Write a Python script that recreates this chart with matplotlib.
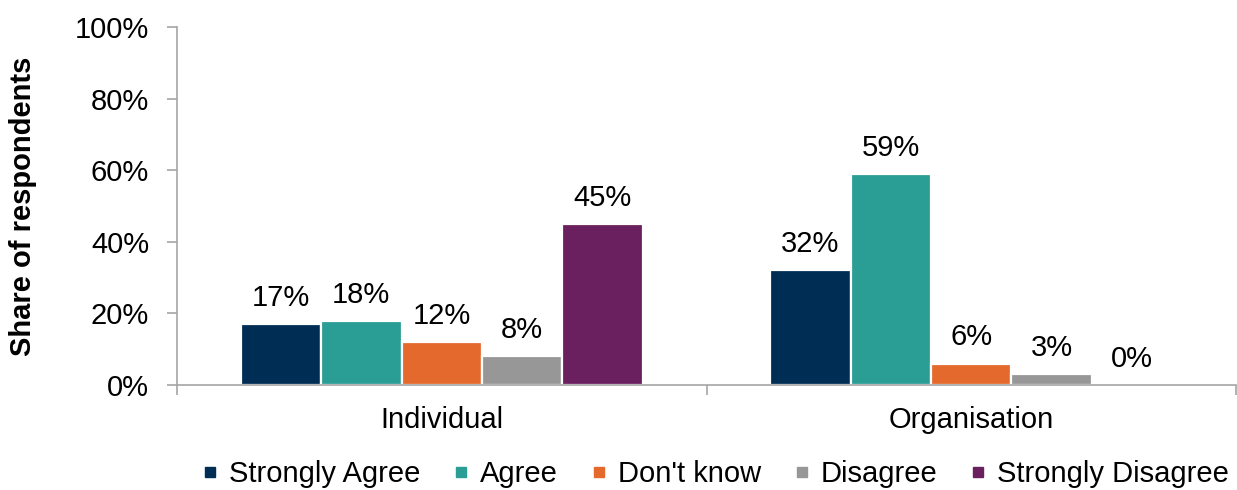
import matplotlib
matplotlib.use("Agg")
import matplotlib.pyplot as plt
from matplotlib.lines import Line2D
import numpy as np

# Survey responses, share of respondents (%)
groups = ["Individual", "Organisation"]
responses = ["Strongly Agree", "Agree", "Don't know", "Disagree", "Strongly Disagree"]
individual = [17, 18, 12, 8, 45]
organisation = [32, 59, 6, 3, 0]
colors = ["#002D54", "#2A9D94", "#E4692D", "#979797", "#6A1F5F"]
y_ticks = [0, 20, 40, 60, 80, 100]

plt.rcParams["font.family"] = ["Liberation Sans", "DejaVu Sans"]
FS = 21
AXIS_GREY = "#A6A6A6"

fig = plt.figure(figsize=(12.37, 4.9), dpi=100)
ax = fig.add_axes([177 / 1237, 105 / 490, 1059 / 1237, 358 / 490])

values = np.array([individual, organisation])
x = np.arange(len(groups))
slot = 0.152

for i, (resp, col) in enumerate(zip(responses, colors)):
    xpos = x + (i - 2) * slot
    ax.bar(xpos, values[:, i], width=slot, color=col, edgecolor="white",
           linewidth=1.6, label=resp, zorder=2)
    for xp, v in zip(xpos, values[:, i]):
        ax.annotate(f"{v}%", (xp, v), xytext=(0, 13), textcoords="offset points",
                    ha="center", va="baseline", fontsize=FS, color="black")

ax.set_xlim(-0.5, 1.5)
ax.set_ylim(0, 100)
ax.set_yticks(y_ticks)
ax.set_yticklabels([f"{t}%" for t in y_ticks], fontsize=FS)

# category labels between boundary ticks
ax.set_xticks(x)
ax.set_xticklabels(groups, fontsize=FS)
ax.tick_params(axis="x", which="major", length=0, pad=15)
ax.set_xticks([-0.5, 0.5, 1.5], minor=True)
ax.tick_params(axis="x", which="minor", length=7, width=1.2, color=AXIS_GREY)
ax.tick_params(axis="y", length=7, width=1.2, color=AXIS_GREY, pad=13)

for side in ["top", "right"]:
    ax.spines[side].set_visible(False)
for side in ["left", "bottom"]:
    ax.spines[side].set_color(AXIS_GREY)
    ax.spines[side].set_linewidth(1.2)

ax.set_ylabel("Share of respondents", fontsize=21, fontweight="bold", labelpad=27)

handles = [Line2D([], [], marker="s", linestyle="none", color=c, markersize=7.5)
           for c in colors]
fig.legend(handles, responses, loc="lower center", ncol=5, frameon=False,
           fontsize=FS, bbox_to_anchor=(0.578, -0.02), handlelength=0.6,
           handletextpad=0.35, columnspacing=1.1, borderaxespad=0)

fig.savefig("out.png", dpi=100)
